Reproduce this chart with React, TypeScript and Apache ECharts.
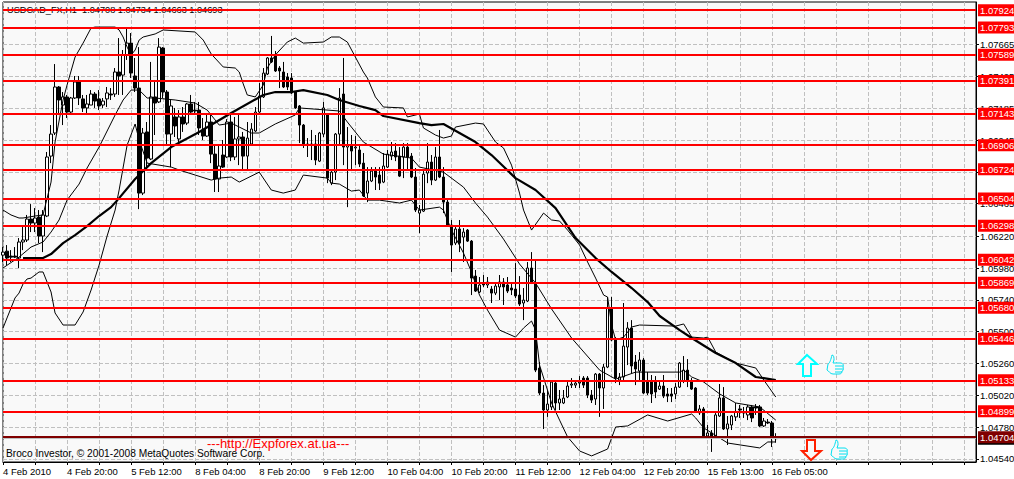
import React, { useEffect, useRef } from "react";
import * as echarts from "echarts";

// [open, close, low, high] per H1 bar
const feb04 = [
  [1.06077,1.06100,1.06025,1.06138],[1.06107,1.06055,1.06002,1.06153],[1.06070,1.06062,1.06025,1.06115],[1.06070,1.06062,1.06055,1.06138],
  [1.06055,1.06176,1.05980,1.06206],[1.06176,1.06191,1.06115,1.06289],[1.06191,1.06349,1.06176,1.06380],[1.06349,1.06319,1.06251,1.06462],
  [1.06319,1.06357,1.06251,1.06432],[1.06364,1.06221,1.06168,1.06417],[1.06221,1.06380,1.06100,1.06417],[1.06372,1.06817,1.06364,1.06855],
  [1.06824,1.06990,1.06771,1.07058],[1.06998,1.07345,1.06983,1.07518],[1.07345,1.07247,1.07134,1.07352],[1.07209,1.07270,1.07058,1.07307],
  [1.07270,1.07156,1.07111,1.07285],[1.07156,1.07262,1.07149,1.07270],[1.07262,1.07383,1.07255,1.07428],[1.07383,1.07262,1.07209,1.07428],
];
const feb05 = [
  [1.07255,1.07187,1.07156,1.07285],[1.07187,1.07217,1.07149,1.07285],[1.07209,1.07292,1.07209,1.07322],[1.07292,1.07239,1.07187,1.07307],
  [1.07255,1.07202,1.07171,1.07322],[1.07209,1.07239,1.07187,1.07262],[1.07255,1.07300,1.07194,1.07345],[1.07292,1.07285,1.07247,1.07337],
  [1.07292,1.07458,1.07270,1.07488],[1.07458,1.07428,1.07285,1.07714],[1.07435,1.07586,1.07285,1.07624],[1.07586,1.07676,1.07549,1.07790],
  [1.07676,1.07450,1.07413,1.07752],[1.07428,1.07337,1.07307,1.07564],[1.07337,1.06545,1.06424,1.07646],[1.06545,1.06998,1.06530,1.07036],
  [1.07006,1.06809,1.06726,1.07081],[1.06802,1.07270,1.06794,1.07534],[1.07270,1.07224,1.06983,1.07398],[1.07232,1.07646,1.07224,1.07714],
  [1.07639,1.07307,1.07262,1.07646],[1.07307,1.06990,1.06907,1.07322],[1.06990,1.07202,1.06741,1.07247],[1.07119,1.07051,1.06968,1.07187],
];
const feb08 = [
  [1.06953,1.07119,1.06930,1.07171],[1.07119,1.07066,1.07006,1.07194],[1.07073,1.07217,1.07058,1.07224],[1.07217,1.07156,1.07134,1.07285],
  [1.07171,1.07164,1.07149,1.07232],[1.07171,1.07036,1.06983,1.07232],[1.07021,1.06975,1.06945,1.07111],[1.06975,1.07081,1.06968,1.07149],
  [1.07081,1.06839,1.06771,1.07134],[1.06839,1.06651,1.06553,1.06900],[1.06651,1.06749,1.06553,1.06900],[1.06832,1.06741,1.06734,1.06945],
  [1.06817,1.07081,1.06809,1.07103],[1.07081,1.06817,1.06786,1.07134],[1.06817,1.06953,1.06794,1.07119],[1.06953,1.06968,1.06756,1.07134],
  [1.06968,1.06824,1.06719,1.07006],[1.06824,1.06960,1.06726,1.07081],[1.06915,1.07028,1.06907,1.07073],[1.07013,1.07156,1.07006,1.07194],
  [1.07156,1.07277,1.07149,1.07375],[1.07270,1.07450,1.07262,1.07488],[1.07443,1.07564,1.07435,1.07571],[1.07564,1.07534,1.07526,1.07730],
];
const feb09 = [
  [1.07586,1.07466,1.07458,1.07616],[1.07488,1.07466,1.07337,1.07503],[1.07458,1.07345,1.07337,1.07534],[1.07420,1.07345,1.07322,1.07450],
  [1.07413,1.07300,1.07293,1.07450],[1.07307,1.07187,1.07180,1.07315],[1.07202,1.07058,1.06922,1.07209],[1.07058,1.06907,1.06885,1.07066],
  [1.06907,1.06915,1.06817,1.06960],[1.06915,1.06907,1.06794,1.07021],[1.06915,1.06794,1.06756,1.06983],[1.06786,1.06998,1.06779,1.07006],
  [1.06990,1.07187,1.06968,1.07232],[1.07141,1.06658,1.06620,1.07149],[1.06620,1.06703,1.06605,1.06711],[1.06703,1.06990,1.06643,1.06998],
  [1.06990,1.07262,1.06907,1.07337],[1.07292,1.06892,1.06756,1.07564],[1.06892,1.06907,1.06439,1.07043],[1.06907,1.06862,1.06711,1.06983],
  [1.06885,1.06892,1.06756,1.06975],[1.06870,1.06764,1.06741,1.06907],[1.06771,1.06523,1.06515,1.06847],[1.06545,1.06636,1.06477,1.06741],
];
const feb10 = [
  [1.06636,1.06711,1.06628,1.06741],[1.06719,1.06666,1.06568,1.06741],[1.06681,1.06620,1.06568,1.06741],[1.06628,1.06749,1.06620,1.06847],
  [1.06741,1.06839,1.06734,1.06870],[1.06824,1.06855,1.06794,1.06930],[1.06862,1.06817,1.06786,1.06922],[1.06824,1.06673,1.06666,1.06892],
  [1.06817,1.06892,1.06658,1.06922],[1.06892,1.06817,1.06719,1.06922],[1.06824,1.06666,1.06658,1.06847],[1.06666,1.06417,1.06402,1.06734],
  [1.06394,1.06417,1.06243,1.06455],[1.06409,1.06688,1.06402,1.06726],[1.06696,1.06779,1.06620,1.06922],[1.06779,1.06643,1.06605,1.06832],
  [1.06643,1.06817,1.06636,1.06892],[1.06817,1.06666,1.06658,1.07021],[1.06666,1.06477,1.06394,1.06741],[1.06477,1.06304,1.06296,1.06507],
  [1.06304,1.06153,1.05950,1.06342],[1.06168,1.06274,1.06153,1.06296],[1.06274,1.06168,1.06100,1.06342],[1.06213,1.06251,1.06025,1.06281],
];
const feb11 = [
  [1.06266,1.06183,1.06176,1.06274],[1.06183,1.05904,1.05776,1.06191],[1.05919,1.05806,1.05799,1.05965],[1.05799,1.05852,1.05791,1.05912],
  [1.05867,1.05852,1.05837,1.05927],[1.05852,1.05874,1.05829,1.05912],[1.05821,1.05791,1.05716,1.05844],[1.05791,1.05844,1.05776,1.05867],
  [1.05837,1.05874,1.05738,1.05927],[1.05874,1.05837,1.05701,1.05904],[1.05852,1.05806,1.05791,1.05912],[1.05829,1.05814,1.05776,1.05867],
  [1.05821,1.05769,1.05754,1.06017],[1.05776,1.05708,1.05693,1.05919],[1.05716,1.05738,1.05587,1.05829],[1.05731,1.05980,1.05723,1.06025],
  [1.05980,1.05867,1.05859,1.06100],[1.05867,1.05210,1.05195,1.06047],[1.05225,1.05037,1.05022,1.05271],[1.05037,1.04909,1.04766,1.05097],
  [1.04909,1.04954,1.04857,1.05060],[1.04932,1.05120,1.04909,1.05127],[1.05112,1.04962,1.04909,1.05120],[1.04962,1.04992,1.04909,1.05060],
];
const feb12 = [
  [1.04962,1.04999,1.04954,1.05060],[1.05007,1.05090,1.04999,1.05120],[1.05097,1.05105,1.05075,1.05150],[1.05097,1.05112,1.05075,1.05135],
  [1.05112,1.05120,1.05075,1.05165],[1.05150,1.05097,1.05075,1.05165],[1.05150,1.05022,1.04999,1.05165],[1.05022,1.04984,1.04962,1.05060],
  [1.04992,1.05180,1.04947,1.05188],[1.05180,1.05075,1.04857,1.05188],[1.05075,1.05233,1.04917,1.05256],[1.05233,1.05678,1.05225,1.05761],
  [1.05678,1.05437,1.05429,1.05761],[1.05437,1.05150,1.05112,1.05459],[1.05135,1.05158,1.05097,1.05188],[1.05158,1.05391,1.05135,1.05716],
  [1.05384,1.05527,1.05248,1.05572],[1.05527,1.05241,1.05188,1.05587],[1.05271,1.05218,1.05097,1.05324],[1.05203,1.05286,1.05135,1.05346],
  [1.05286,1.05037,1.05030,1.05301],[1.05120,1.05037,1.05022,1.05195],[1.05120,1.05030,1.04962,1.05173],
];
const feb15 = [
  [1.05120,1.05045,1.04999,1.05165],[1.05067,1.05090,1.05060,1.05135],[1.05090,1.05014,1.04999,1.05173],[1.05030,1.05014,1.04969,1.05075],
  [1.05030,1.05014,1.04969,1.05075],[1.05030,1.05082,1.04992,1.05112],[1.05082,1.05263,1.05075,1.05271],[1.05127,1.05210,1.05112,1.05316],
  [1.05210,1.05127,1.05082,1.05293],[1.05127,1.05067,1.05060,1.05150],[1.05075,1.04902,1.04894,1.05082],[1.04887,1.04917,1.04872,1.04947],
  [1.04917,1.04713,1.04706,1.04932],[1.04713,1.04736,1.04706,1.04796],[1.04736,1.04713,1.04593,1.04758],[1.04713,1.04872,1.04706,1.04894],
  [1.04864,1.05000,1.04857,1.05105],[1.05000,1.04766,1.04758,1.05082],[1.04766,1.04804,1.04645,1.04864],[1.04796,1.04864,1.04758,1.04872],
  [1.04857,1.04894,1.04826,1.04962],[1.04917,1.04909,1.04849,1.04947],[1.04894,1.04887,1.04849,1.04932],[1.04872,1.04932,1.04833,1.04947],
];
const feb16 = [
  [1.04932,1.04849,1.04818,1.04947],[1.04932,1.04924,1.04872,1.04954],[1.04932,1.04789,1.04781,1.04947],[1.04789,1.04826,1.04781,1.04849],
  [1.04818,1.04811,1.04803,1.04841],[1.04811,1.04698,1.04630,1.04826],[1.04708,1.04693,1.04663,1.04734],
];
const candles = [...feb04, ...feb05, ...feb08, ...feb09, ...feb10, ...feb11, ...feb12, ...feb15, ...feb16];

const bbUpper = [
  [0,1.06417],[2,1.06380],[4,1.06357],[5,1.06357],[8,1.06372],[10,1.06380],[12,1.06628],[13,1.06930],[15,1.07247],[16,1.07360],[18,1.07571],[20,1.07676],
  [22,1.07790],[23,1.07797],[28,1.07797],[29,1.07775],[30,1.07722],[31,1.07646],[32,1.07586],[33,1.07624],[34,1.07699],[35,1.07722],[38,1.07745],[40,1.07775],
  [48,1.07760],[50,1.07699],[52,1.07594],[55,1.07496],[58,1.07488],[59,1.07458],[60,1.07368],[61,1.07285],[63,1.07270],[65,1.07360],[66,1.07488],[68,1.07586],
  [71,1.07684],[73,1.07714],[75,1.07676],[80,1.07684],[82,1.07722],[84,1.07722],[86,1.07684],[88,1.07571],[90,1.07458],[91,1.07413],[93,1.07270],[95,1.07194],
  [100,1.07187],[101,1.07119],[104,1.07141],[105,1.07036],[108,1.06983],[110,1.06960],[112,1.06975],[113,1.07043],[118,1.07073],[120,1.07066],[123,1.06930],[125,1.06885],
  [127,1.06756],[129,1.06545],[130,1.06417],[132,1.06266],[135,1.06394],[137,1.06342],[139,1.06334],[141,1.06266],[143,1.06191],[144,1.06153],[146,1.06025],[148,1.05904],
  [150,1.05776],[151,1.05761],[152,1.05549],[153,1.05437],[155,1.05459],[157,1.05535],[159,1.05550],[168,1.05542],[170,1.05558],[172,1.05459],[175,1.05452],[176,1.05459],
  [178,1.05346],[183,1.05263],[188,1.05226],[190,1.05135],[193,1.05007],
];
const bbMiddle = [
  [0,1.05980],[4,1.06062],[7,1.06138],[10,1.06176],[12,1.06251],[14,1.06342],[16,1.06492],[19,1.06613],[21,1.06734],[24,1.06892],[28,1.07134],[30,1.07247],
  [32,1.07322],[34,1.07322],[36,1.07262],[38,1.07262],[43,1.07247],[48,1.07224],[51,1.07171],[54,1.07058],[57,1.07073],[59,1.07043],[62,1.06998],[64,1.06998],
  [68,1.07066],[73,1.07134],[74,1.07187],[84,1.07164],[86,1.07081],[90,1.06930],[95,1.06839],[102,1.06809],[104,1.06741],[110,1.06703],[115,1.06590],[118,1.06470],
  [121,1.06364],[125,1.06198],[129,1.06010],[133,1.05867],[137,1.05671],[142,1.05452],[149,1.05210],[153,1.05142],[158,1.05195],[169,1.05195],[170,1.05210],[172,1.05158],
  [175,1.05120],[179,1.05030],[183,1.04962],[189,1.04932],[193,1.04833],
];
const bbLower = [
  [0,1.05527],[1,1.05603],[2,1.05678],[3,1.05754],[4,1.05791],[5,1.05859],[6,1.05897],[7,1.05904],[9,1.05950],[10,1.05950],[12,1.05799],[13,1.05641],[15,1.05550],[18,1.05550],
  [20,1.05648],[22,1.05814],[24,1.06002],[26,1.06221],[28,1.06417],[29,1.06568],[31,1.06907],[33,1.07066],[34,1.06945],[36,1.06771],[42,1.06741],[44,1.06719],[52,1.06643],
  [54,1.06658],[57,1.06666],[59,1.06628],[64,1.06703],[67,1.06568],[70,1.06545],[73,1.06568],[75,1.06681],[81,1.06658],[82,1.06620],[84,1.06613],[87,1.06560],[89,1.06568],
  [91,1.06492],[94,1.06492],[99,1.06470],[102,1.06492],[104,1.06417],[109,1.06439],[110,1.06417],[112,1.06266],[115,1.06093],[117,1.05950],[119,1.05776],[121,1.05663],
  [124,1.05512],[128,1.05459],[130,1.05527],[132,1.05580],[133,1.05512],[134,1.05248],[137,1.04962],[139,1.04833],[141,1.04706],[144,1.04600],[147,1.04563],[151,1.04615],
  [153,1.04781],[156,1.04789],[161,1.04872],[166,1.04826],[172,1.04879],[173,1.04849],[175,1.04774],[181,1.04660],[189,1.04623],[191,1.04668],[193,1.04668],
];
const movingAverage = [
  [5,1.06055],[10,1.06055],[12,1.06085],[15,1.06168],[18,1.06228],[21,1.06296],[24,1.06372],[27,1.06439],[29,1.06507],[33,1.06651],[37,1.06771],[42,1.06892],[49,1.07006],
  [57,1.07149],[65,1.07285],[68,1.07307],[72,1.07307],[75,1.07322],[81,1.07285],[84,1.07247],[89,1.07202],[93,1.07171],[95,1.07126],[104,1.07073],[107,1.07058],[110,1.07066],
  [114,1.06998],[118,1.06930],[122,1.06832],[128,1.06658],[133,1.06568],[138,1.06432],[143,1.06206],[148,1.06055],[152,1.05950],[157,1.05829],[161,1.05723],[164,1.05618],
  [169,1.05512],[172,1.05452],[178,1.05339],[183,1.05263],[188,1.05158],[190,1.05150],[193,1.05135],
];

const levels = [1.07924,1.07793,1.07589,1.07391,1.07143,1.06906,1.06724,1.06504,1.06298,1.06042,1.05869,1.05680,1.05446,1.05133,1.04899];
const supportLevel = 1.04704;
const bidPrice = 1.04693;

const yTicks = [1.07665,1.07425,1.07185,1.06945,1.06705,1.06465,1.0622,1.0598,1.0574,1.055,1.0526,1.0502,1.0478,1.0454];
const xTickLabels = ["4 Feb 2010","4 Feb 20:00","5 Feb 12:00","8 Feb 04:00","8 Feb 20:00","9 Feb 12:00","10 Feb 04:00","10 Feb 20:00","11 Feb 12:00","12 Feb 04:00","12 Feb 20:00","15 Feb 13:00","16 Feb 05:00"];
const slotCount = 244;
const categories = Array.from({ length: slotCount }, (_, i) => (i % 16 === 0 ? xTickLabels[i / 16] ?? "" : ""));

const titleText = "USDCAD_FX,H1  1.04708 1.04734 1.04663 1.04693";
const copyrightText = "Broco Investor, © 2001-2008 MetaQuotes Software Corp.";
const siteText = "---http://Expforex.at.ua---";

const FONT = "'Liberation Sans', Arial, sans-serif";

const THUMB =
  "M5 0 C7 0 7 3 7 5 L6 8 L13 8 C16 8 17 10 16 12 C17 14 16 16 15 16 C15 18 14 19 12 19 L6 19 C3 19 2 16 0 15 L1 9 C3 8 4 4 5 0 Z M8 11 L16 11 M8 14 L16 14 M8 17 L15 17";
echarts.graphic.registerShape("thumbUp", echarts.graphic.extendPath(THUMB, {}));

const thinLine = (name: string, data: number[][]) => ({
  name,
  type: "line",
  data,
  symbol: "none",
  silent: true,
  z: 3,
  lineStyle: { color: "#000", width: 1 },
});

export default function App() {
  const ref = useRef<HTMLDivElement>(null);
  useEffect(() => {
    document.body.style.margin = "0";
    const chart = echarts.init(ref.current!, null, { renderer: "svg" });
    const tag = (bg: string) => ({
      show: true,
      position: "end",
      distance: 2,
      formatter: (p: any) => Number(p.value).toFixed(5),
      color: "#fff",
      backgroundColor: bg,
      fontFamily: FONT,
      fontSize: 9.5,
      lineHeight: 11,
      padding: [1, 1, 0, 2],
    });
    chart.setOption({
      animation: false,
      backgroundColor: "#ffffff",
      title: {
        text: titleText,
        left: 7,
        top: 5,
        padding: 0,
        z: 1,
        textStyle: { color: "#000", fontFamily: FONT, fontSize: 9.2, fontWeight: "normal" },
      },
      grid: {
        left: 3,
        top: 2,
        width: 973,
        height: 460,
        show: true,
        outerBoundsMode: "none",
        containLabel: false,
        backgroundColor: "#F9F9F9",
        borderColor: "#000",
        borderWidth: 1,
      },
      xAxis: {
        type: "category",
        data: categories,
        boundaryGap: false,
        axisLine: { onZero: false, lineStyle: { color: "#000" } },
        axisTick: { show: true, interval: 7, length: 3, lineStyle: { color: "#000" } },
        axisLabel: { interval: 15, align: "left", margin: 4, color: "#000", fontFamily: FONT, fontSize: 9.5, hideOverlap: false },
        splitLine: { show: true, interval: 7, lineStyle: { color: "#C0C0C0", type: "dashed" } },
      },
      yAxis: {
        type: "value",
        position: "right",
        min: 1.04517,
        max: 1.07986,
        axisLine: { show: true, onZero: false, lineStyle: { color: "#000" } },
        axisTick: { show: true, length: 3, customValues: yTicks, lineStyle: { color: "#000" } },
        axisLabel: {
          margin: 4,
          customValues: yTicks,
          color: "#000",
          fontFamily: FONT,
          fontSize: 9.5,
          formatter: (v: number) => v.toFixed(5),
        },
        splitLine: { show: true, lineStyle: { color: "#C0C0C0", type: "dashed" } },
      },
      series: [
        {
          name: "USDCAD",
          type: "candlestick",
          data: candles,
          barWidth: 3,
          silent: true,
          z: 2,
          itemStyle: { color: "#FFFFFF", color0: "#000000", borderColor: "#000000", borderColor0: "#000000", borderWidth: 1 },
        },
        thinLine("Upper band", bbUpper),
        thinLine("Middle band", bbMiddle),
        thinLine("Lower band", bbLower),
        {
          name: "Moving average",
          type: "line",
          data: movingAverage,
          symbol: "none",
          silent: true,
          z: 4,
          lineStyle: { color: "#000", width: 2.2 },
        },
        {
          name: "Levels",
          type: "line",
          data: [],
          z: 5,
          silent: true,
          markLine: {
            silent: true,
            symbol: "none",
            precision: 5,
            animation: false,
            lineStyle: { color: "#FF0000", width: 2, type: "solid" },
            data: [
              { yAxis: bidPrice, lineStyle: { color: "#C0C0C0", width: 1, type: "solid" }, label: tag("#000000") },
              ...levels.map((v) => ({ yAxis: v, label: tag("#FF0000") })),
              { yAxis: supportLevel, lineStyle: { color: "#800000", width: 2, type: "solid" }, label: tag("#800000") },
            ],
          },
        },
      ],
      graphic: [
        { type: "text", z: 1, x: 6, y: 448, style: { text: copyrightText, fill: "#000", font: `10.2px ${FONT}` } },
        { type: "text", z: 7, x: 207, y: 437, style: { text: siteText, fill: "#FF0000", font: `13px ${FONT}` } },
        {
          type: "polygon",
          z: 7,
          shape: { points: [[807, 355], [817, 364], [811, 364], [811, 376], [803, 376], [803, 364], [798, 364]] },
          style: { fill: "#F9F9F9", stroke: "#00FFFF", lineWidth: 2 },
        },
        {
          type: "polygon",
          z: 7,
          shape: { points: [[807, 440], [815, 440], [815, 451], [821, 451], [811, 460], [802, 451], [807, 451]] },
          style: { fill: "#F9F9F9", stroke: "#FF2000", lineWidth: 2 },
        },
        { type: "thumbUp", z: 7, x: 827, y: 355, style: { fill: "#F9F9F9", stroke: "#00E0F0", lineWidth: 1 } },
        { type: "thumbUp", z: 7, x: 831, y: 440, style: { fill: "#F9F9F9", stroke: "#00E0F0", lineWidth: 1 } },
      ],
    });
    return () => chart.dispose();
  }, []);
  return <div ref={ref} style={{ position: "absolute", left: 0, top: 0, width: 1014, height: 479 }} />;
}
